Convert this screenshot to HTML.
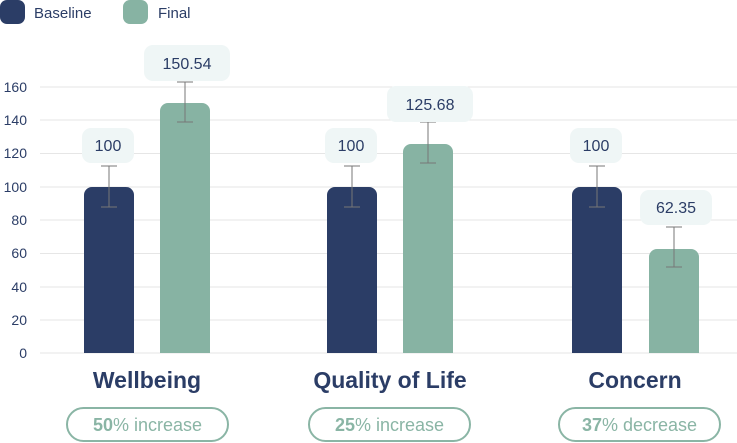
<!DOCTYPE html>
<html><head><style>
body{margin:0;background:#fff;}
svg{display:block;font-family:"Liberation Sans",sans-serif;}
</style></head><body>
<svg width="737" height="443" viewBox="0 0 737 443">
<rect x="0" y="0" width="25" height="24" rx="7" fill="#2b3d66"/>
<text x="34" y="18" font-size="15" fill="#2b3d66">Baseline</text>
<rect x="123" y="0" width="25" height="24" rx="7" fill="#87b3a3"/>
<text x="158" y="18" font-size="15" fill="#2b3d66">Final</text>
<g stroke="#e6e6e6" stroke-width="1">
<line x1="40" x2="737" y1="87" y2="87"/><line x1="40" x2="737" y1="120" y2="120"/>
<line x1="40" x2="737" y1="153.5" y2="153.5"/><line x1="40" x2="737" y1="187" y2="187"/>
<line x1="40" x2="737" y1="220" y2="220"/><line x1="40" x2="737" y1="253.5" y2="253.5"/>
<line x1="40" x2="737" y1="287" y2="287"/><line x1="40" x2="737" y1="320" y2="320"/>
<line x1="40" x2="737" y1="353" y2="353"/>
</g>
<g font-size="14" fill="#2b3d66" text-anchor="end">
<text x="27" y="92">160</text><text x="27" y="125">140</text><text x="27" y="158">120</text>
<text x="27" y="192">100</text><text x="27" y="225">80</text><text x="27" y="258">60</text>
<text x="27" y="292">40</text><text x="27" y="325">20</text><text x="27" y="358">0</text>
</g>
<g fill="#2b3d66">
<path d="M84 353V195a8 8 0 0 1 8-8h34a8 8 0 0 1 8 8V353z"/>
<path d="M327 353V195a8 8 0 0 1 8-8h34a8 8 0 0 1 8 8V353z"/>
<path d="M572 353V195a8 8 0 0 1 8-8h34a8 8 0 0 1 8 8V353z"/>
</g>
<g fill="#87b3a3">
<path d="M160 353V111a8 8 0 0 1 8-8h34a8 8 0 0 1 8 8V353z"/>
<path d="M403 353V152a8 8 0 0 1 8-8h34a8 8 0 0 1 8 8V353z"/>
<path d="M649 353V257a8 8 0 0 1 8-8h34a8 8 0 0 1 8 8V353z"/>
</g>
<g stroke="#777" stroke-width="1" fill="none">
<path d="M109 166V207M101 166H117M101 207H117"/>
<path d="M185 82V122M177 82H193M177 122H193"/>
<path d="M352 166V207M344 166H360M344 207H360"/>
<path d="M428 122V163M420 122H436M420 163H436"/>
<path d="M597 166V207M589 166H605M589 207H605"/>
<path d="M674 227V267M666 227H682M666 267H682"/>
</g>
<g fill="#eff6f6">
<rect x="82" y="128" width="52" height="35" rx="9"/>
<rect x="144" y="45" width="86" height="36" rx="9"/>
<rect x="325" y="128" width="52" height="35" rx="9"/>
<rect x="387" y="86" width="86" height="36" rx="9"/>
<rect x="570" y="128" width="52" height="35" rx="9"/>
<rect x="640" y="190" width="72" height="35" rx="9"/>
</g>
<g font-size="16" fill="#2b3d66" text-anchor="middle">
<text x="108" y="151">100</text><text x="187" y="69">150.54</text>
<text x="351" y="151">100</text><text x="430" y="110">125.68</text>
<text x="596" y="151">100</text><text x="676" y="213">62.35</text>
</g>
<g font-size="23" font-weight="bold" fill="#2b3d66" text-anchor="middle">
<text x="147" y="388">Wellbeing</text>
<text x="390" y="388">Quality of Life</text>
<text x="635" y="388">Concern</text>
</g>
<g fill="none" stroke="#8ab5a5" stroke-width="2">
<rect x="67" y="408" width="161" height="33" rx="16.5"/>
<rect x="309" y="408" width="161" height="33" rx="16.5"/>
<rect x="559" y="408" width="161" height="33" rx="16.5"/>
</g>
<g font-size="18" fill="#8ab5a5" text-anchor="middle">
<text x="147.5" y="431"><tspan font-weight="bold">50</tspan>% increase</text>
<text x="389.5" y="431"><tspan font-weight="bold">25</tspan>% increase</text>
<text x="639.5" y="431"><tspan font-weight="bold">37</tspan>% decrease</text>
</g>
</svg>
</body></html>
